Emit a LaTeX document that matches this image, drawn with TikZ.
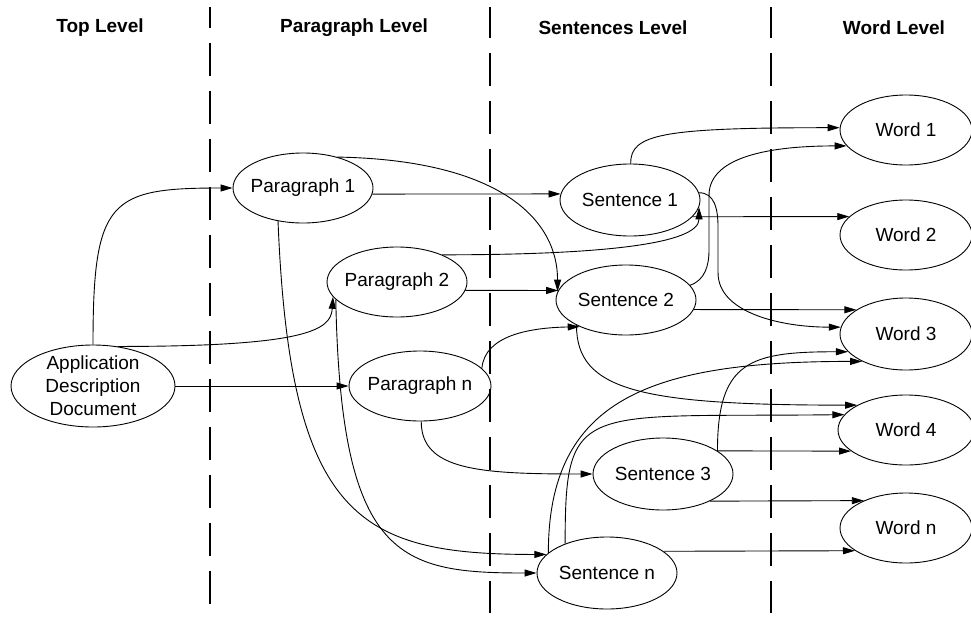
\documentclass[tikz,border=0pt]{standalone}
\usepackage{fontspec}
\setmainfont{Liberation Sans}
\usetikzlibrary{shapes.geometric,arrows.meta}
\begin{document}
\begin{tikzpicture}[x=1pt,y=-1pt,
  nd/.style={draw, ellipse, line width=0.9pt, inner xsep=-8pt, inner ysep=-6pt,
    font=\fontsize{19}{23}\selectfont, align=center, minimum width=140pt, minimum height=70pt},
  wd/.style={nd, minimum width=132pt},
  hd/.style={font=\bfseries\fontsize{19}{23}\selectfont},
  sepline/.style={line width=1.6pt, dash pattern=on 33pt off 15pt},
  ar/.style={line width=0.9pt, -{Triangle[length=12pt,width=7pt]}},
]
\useasboundingbox (0,0) rectangle (971,624);
% separators
\draw[sepline, dash phase=12pt] (210,7) -- (210,613);
\draw[sepline, dash phase=2pt] (490,7) -- (490,613);
\draw[sepline, dash phase=2pt] (771,7) -- (771,613);
% headings
\node[hd] (h1) at (100,28) {Top Level};
\node[hd] (h2) at (354,28) {Paragraph Level};
\node[hd] (h3) at (613,28) {Sentences Level};
\node[hd] (h4) at (894,28) {Word Level};
% nodes
\node[nd, minimum width=164pt, minimum height=82pt, inner ysep=-22pt] (app) at (93,386) {Application\\Description\\Document};
\node[nd] (p1) at (303,188) {Paragraph 1};
\node[nd] (p2) at (397,282) {Paragraph 2};
\node[nd, minimum width=142pt] (pn) at (420,386) {Paragraph n};
\node[nd, minimum height=72pt] (s1) at (630,200) {Sentence 1};
\node[nd] (s2) at (626,300) {Sentence 2};
\node[nd, minimum height=72pt] (s3) at (663,474) {Sentence 3};
\node[nd, minimum height=72pt] (sn) at (607,573) {Sentence n};
\node[wd] (w1) at (906,130) {Word 1};
\node[wd] (w2) at (906,235) {Word 2};
\node[wd, minimum height=72pt] (w3) at (906,334) {Word 3};
\node[wd, minimum width=136pt] (w4) at (906,430) {Word 4};
\node[wd] (wn) at (906,528) {Word n};
% connectors
\draw[ar] (app.north) .. controls +(0,-145) and +(-123,0) .. (p1.west);
\draw[ar] (app.58) .. controls +(190,0) and +(-2,33) .. (p2.193);
\draw[ar] (app.east) -- (pn.west);
\draw[ar] (p1.-5) -- (s1.175);
\draw[ar] (p1.42) .. controls +(163,3) and +(0,-72) .. (s2.173);
\draw[ar] (p1.233) .. controls +(12,299) and +(-186,0) .. (sn.163.6);
\draw[ar] (p2.196.7) .. controls +(5,260) and +(-137,0) .. (sn.west);
\draw[ar] (p2.31) .. controls +(158,0) and +(0,37) .. (s1.-6.6);
\draw[ar] (p2.-7.6) -- (s2.172.4);
\draw[ar] (pn.16) .. controls +(3,-33) and +(-50,1) .. (s2.210);
\draw[ar] (pn.-88) .. controls +(0,49) and +(-113,0) .. (s3.west);
\draw[ar] (s1.89) .. controls +(0,-29) and +(-180,0) .. (w1.178);
\draw[ar] (s1.-15.4) -- (w2.162.4);
\draw[ar] (s1.6.7) .. controls +(15,0) and +(0,-20) .. ++(19,35) -- ++(0,45) .. controls +(0,40) and +(-60,0) .. (w3.174);
\draw[ar] (s2.13.4) .. controls +(15,-5) and +(0,15) .. ++(19,-35) -- ++(0,-55) .. controls +(0,-35) and +(-87,0) .. (w1.195);
\draw[ar] (s2.-8.5) -- (w3.154);
\draw[ar] (s2.207) .. controls +(0,65) and +(-218,0) .. (w4.153);
\draw[ar] (s3.23.5) .. controls +(0,-90) and +(-98,0) .. (w3.197);
\draw[ar] (s3.23.5) -- (w4.201.3);
\draw[ar] (s3.-30.3) -- (wn.147.3);
\draw[ar] (sn.161.8) .. controls +(0,-153) and +(-213,0) .. (w3.212.5);
\draw[ar] (sn.145.4) .. controls +(0,-144) and +(-265,3) .. (w4.166.4);
\draw[ar] (sn.21.7) -- (wn.204.8);
\end{tikzpicture}
\end{document}
